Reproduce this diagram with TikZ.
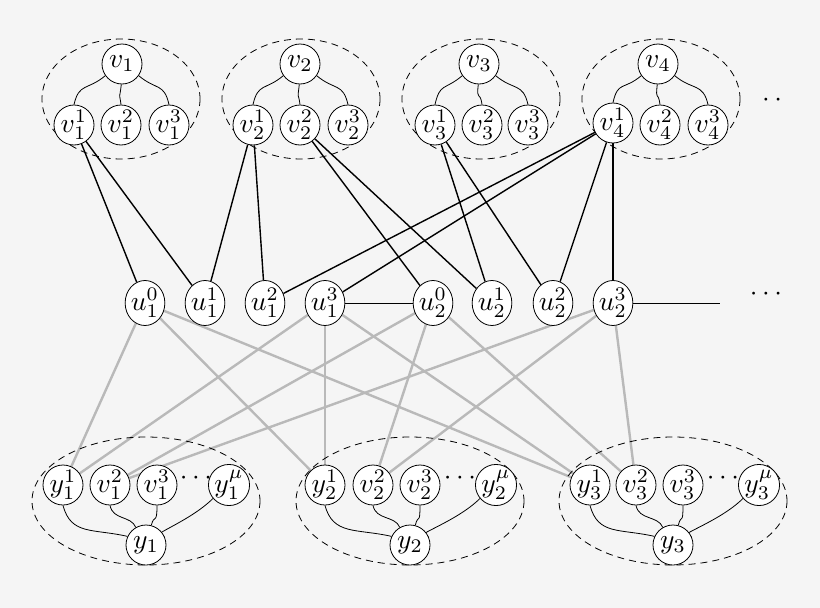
\documentclass[tikz,border=0pt]{standalone}
\usepackage{graphicx}
\usetikzlibrary{shapes.geometric}
\pgfdeclarelayer{bgfill}
\pgfdeclarelayer{bg}
\pgfsetlayers{bgfill,bg,main}
\newcommand{\lbl}[1]{\scalebox{2.75}{$#1$}}
\begin{document}
\begin{tikzpicture}[x=1pt,y=-1pt,
  nd/.style={circle,draw,fill=white,inner sep=0pt,minimum size=40pt,line width=0.8pt},
  un/.style={ellipse,draw,fill=white,inner sep=0pt,minimum width=37pt,minimum height=45pt,line width=0.8pt},
  blk/.style={line width=1.4pt},
  thn/.style={line width=0.8pt},
  gry/.style={line width=2.4pt,gray!55},
  wig/.style={line width=0.8pt},
  grp/.style={line width=0.8pt,dash pattern=on 7pt off 5pt}]
\begin{pgfonlayer}{bgfill}
\fill[black!4] (0,0) rectangle (820,608);
\end{pgfonlayer}
\useasboundingbox (0,0) rectangle (820,608);
% groups
\draw[grp] (121,99) ellipse (79 and 60);
\draw[grp] (301,99) ellipse (79 and 60);
\draw[grp] (481,99) ellipse (79 and 60);
\draw[grp] (661,99) ellipse (79 and 60);
\draw[grp] (146,501) ellipse (114 and 64);
\draw[grp] (410,501) ellipse (114 and 64);
\draw[grp] (673,501) ellipse (114 and 64);
% top nodes
\node[nd] (v1) at (122,64) {\lbl{v_1}};
\node[nd] (v11) at (74,125) {\lbl{v_1^1}};
\node[nd] (v12) at (121,125) {\lbl{v_1^2}};
\node[nd] (v13) at (169,125) {\lbl{v_1^3}};
\node[nd] (v2) at (300,64) {\lbl{v_2}};
\node[nd] (v21) at (253,125) {\lbl{v_2^1}};
\node[nd] (v22) at (300,125) {\lbl{v_2^2}};
\node[nd] (v23) at (348,125) {\lbl{v_2^3}};
\node[nd] (v3) at (479,64) {\lbl{v_3}};
\node[nd] (v31) at (435,125) {\lbl{v_3^1}};
\node[nd] (v32) at (482,125) {\lbl{v_3^2}};
\node[nd] (v33) at (528,125) {\lbl{v_3^3}};
\node[nd] (v4) at (658,64) {\lbl{v_4}};
\node[nd] (v41) at (613,123) {\lbl{v_4^1}};
\node[nd] (v42) at (660,125) {\lbl{v_4^2}};
\node[nd] (v43) at (708,125) {\lbl{v_4^3}};
\node (dt) at (772,100) {\lbl{\cdot\,\cdot}};
% middle
\node[un] (a0) at (145,303) {\lbl{u_1^0}};
\node[un] (a1) at (205,303) {\lbl{u_1^1}};
\node[un] (a2) at (265,303) {\lbl{u_1^2}};
\node[un] (a3) at (325,303) {\lbl{u_1^3}};
\node[un] (b0) at (433,303) {\lbl{u_2^0}};
\node[un] (b1) at (492,303) {\lbl{u_2^1}};
\node[un] (b2) at (553,303) {\lbl{u_2^2}};
\node[un] (b3) at (613,303) {\lbl{u_2^3}};
\coordinate (me) at (720,303);
\node (md) at (766,294) {\lbl{\cdots}};
% bottom
\node[nd] (y11) at (63,485) {\lbl{y_1^1}};
\node[nd] (w12) at (110,485) {\lbl{v_1^2}};
\node[nd] (w13) at (157,485) {\lbl{v_1^3}};
\node (d1) at (196,478) {\lbl{\cdots}};
\node[nd] (y1m) at (229,485) {\lbl{y_1^\mu}};
\node[nd] (y1) at (146,545) {\lbl{y_1}};
\node[nd] (y21) at (325,485) {\lbl{y_2^1}};
\node[nd] (w22) at (373,485) {\lbl{v_2^2}};
\node[nd] (w23) at (420,485) {\lbl{v_2^3}};
\node (d2) at (460,478) {\lbl{\cdots}};
\node[nd] (y2m) at (496,485) {\lbl{y_2^\mu}};
\node[nd] (y2) at (410,545) {\lbl{y_2}};
\node[nd] (y31) at (590,485) {\lbl{y_3^1}};
\node[nd] (w32) at (636,485) {\lbl{v_3^2}};
\node[nd] (w33) at (683,485) {\lbl{v_3^3}};
\node (d3) at (723,478) {\lbl{\cdots}};
\node[nd] (y3m) at (759,485) {\lbl{y_3^\mu}};
\node[nd] (y3) at (673,545) {\lbl{y_3}};
\begin{pgfonlayer}{bg}
% wiggly top
\foreach \p in {1,2,3,4}{
  \draw[wig] (v\p.215) .. controls +(-18,15) and +(5,-22) .. (v\p1.north);
  \draw[wig] (v\p.268) .. controls +(-2,18) and +(-2,-15) .. (v\p2.north);
  \draw[wig] (v\p.325) .. controls +(18,15) and +(-5,-22) .. (v\p3.north);
}
% wiggly bottom
\foreach \p/\a/\b/\c/\d in {1/y11/w12/w13/y1m,2/y21/w22/w23/y2m,3/y31/w32/w33/y3m}{
  \draw[wig] (\a.south) .. controls +(8,30) and +(-35,-8) .. (y\p.155);
  \draw[wig] (\b.south) .. controls +(3,15) and +(-5,-12) .. (y\p.120);
  \draw[wig] (\c.south) .. controls +(0,20) and +(3,-12) .. (y\p.75);
  \draw[wig] (\d.220) .. controls +(-25,25) and +(-25,2) .. (y\p.25);
}
% black edges
\draw[blk] (v11) -- (a0); \draw[blk] (v11) -- (a1);
\draw[blk] (v21) -- (a1); \draw[blk] (v21) -- (a2);
\draw[blk] (v22) -- (b0); \draw[blk] (v22) -- (b1);
\draw[blk] (v31) -- (b1); \draw[blk] (v31) -- (b2);
\draw[blk] (v41) -- (a2); \draw[blk] (v41) -- (a3);
\draw[blk] (v41) -- (b2); \draw[blk] (v41) -- (b3);
\draw[thn] (a3) -- (b0);
\draw[thn] (b3) -- (me);
% gray edges
\foreach \u in {a0,a3}{\foreach \t in {y11,y21,y31}{\draw[gry] (\u) -- (\t);}}
\foreach \u in {b0,b3}{\foreach \t in {w12,w22,w32}{\draw[gry] (\u) -- (\t);}}
\end{pgfonlayer}
\end{tikzpicture}
\end{document}
